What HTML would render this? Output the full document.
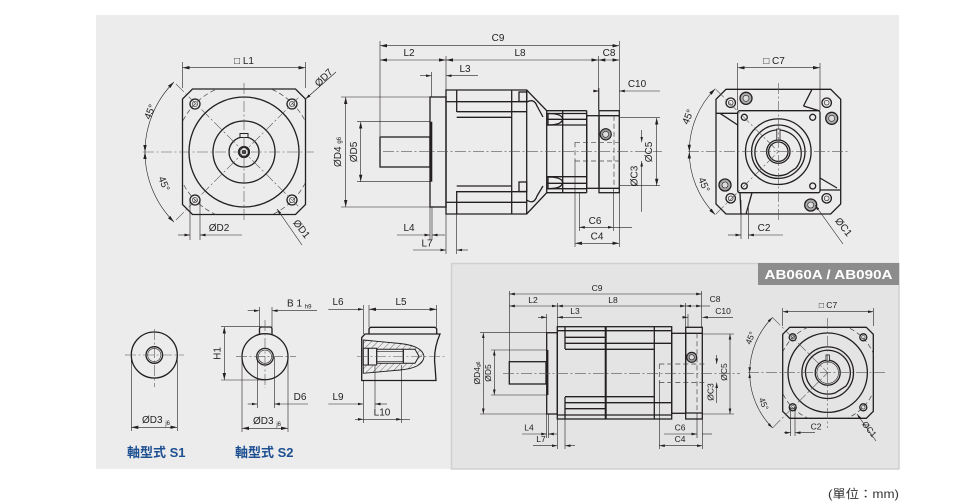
<!DOCTYPE html>
<html><head><meta charset="utf-8"><style>
html,body{margin:0;padding:0;background:#fff;}
svg{display:block;}
text{font-family:"Liberation Sans","Noto Sans CJK TC",sans-serif;fill:#222;}
.o{stroke:#231f20;stroke-width:1.3;fill:none;}
.of{stroke:#231f20;stroke-width:1.3;}
.t{stroke:#231f20;stroke-width:0.6;fill:none;}
.c{stroke:#555;stroke-width:0.6;stroke-dasharray:11 2.5 2 2.5;fill:none;}
.d{stroke:#444;stroke-width:0.7;stroke-dasharray:5 3;fill:none;}
</style></head><body>
<svg width="980" height="502" viewBox="0 0 980 502" xmlns="http://www.w3.org/2000/svg">
<defs>
<marker id="a" viewBox="0 0 10 10" refX="10" refY="5" markerWidth="7" markerHeight="7" orient="auto-start-reverse" markerUnits="userSpaceOnUse"><path d="M0,2.6 L10,5 L0,7.4z" fill="#231f20"/></marker>
<marker id="b" viewBox="0 0 10 10" refX="10" refY="5" markerWidth="5.5" markerHeight="5.5" orient="auto-start-reverse" markerUnits="userSpaceOnUse"><path d="M0,2.6 L10,5 L0,7.4z" fill="#231f20"/></marker>
<pattern id="h" width="4.5" height="4.5" patternUnits="userSpaceOnUse" patternTransform="rotate(45)"><rect width="4.5" height="4.5" fill="#ececec"/><line x1="0" y1="0" x2="0" y2="4.5" stroke="#333" stroke-width="0.7"/></pattern>
<clipPath id="cp1"><polygon points="192.5,89 295.5,89 305.5,99 305.5,204.5 295.5,214.5 192.5,214.5 182.5,204.5 182.5,99"/></clipPath>
<clipPath id="cp2"><polygon points="789.7,327.3 866.3,327.3 873.3,334.3 873.3,411.3 866.3,418.3 789.7,418.3 782.7,411.3 782.7,334.3"/></clipPath>
</defs>

<rect x="0" y="0" width="980" height="502" fill="#fff"/>
<rect x="96" y="15" width="803" height="454" fill="#ececec"/>
<rect x="451.5" y="263.5" width="447.5" height="205.5" fill="#e4e4e4" stroke="#d0d0d0" stroke-width="1.5"/>
<rect x="758" y="263" width="141" height="22" fill="#8c8c8c"/>
<text x="828.5" y="279" text-anchor="middle" font-size="13" font-weight="bold" style="fill:#fff" textLength="128" lengthAdjust="spacingAndGlyphs">AB060A / AB090A</text>

<!-- ================= VIEW 1 : input flange ================= -->
<g>
<line class="t" x1="182.5" y1="62" x2="182.5" y2="88"/>
<line class="t" x1="305.5" y1="62" x2="305.5" y2="88"/>
<line class="t" x1="182.5" y1="67.7" x2="305.5" y2="67.7" marker-start="url(#a)" marker-end="url(#a)"/>
<text x="244" y="64" text-anchor="middle" font-size="10">□ L1</text>

<polygon class="o" points="192.5,89 295.5,89 305.5,99 305.5,204.5 295.5,214.5 192.5,214.5 182.5,204.5 182.5,99"/>
<circle class="d" cx="244" cy="152" r="68.6" clip-path="url(#cp1)"/>
<circle class="o" cx="244" cy="152" r="55"/>
<circle class="o" cx="244" cy="152" r="31"/>
<circle class="o" cx="244" cy="152" r="15"/>
<rect x="240" y="133.5" width="8" height="4" fill="#ececec" stroke="#231f20" stroke-width="1"/>
<circle cx="244" cy="152" r="5" fill="none" stroke="#231f20" stroke-width="2.2"/>
<circle cx="244" cy="152" r="2" fill="#231f20"/>
<g>
<circle class="o" cx="195" cy="104" r="5" stroke-width="1"/><circle class="t" cx="195" cy="104" r="2.6"/>
<circle class="o" cx="292" cy="104" r="5" stroke-width="1"/><circle class="t" cx="292" cy="104" r="2.6"/>
<circle class="o" cx="195" cy="200" r="5" stroke-width="1"/><circle class="t" cx="195" cy="200" r="2.6"/>
<circle class="o" cx="292" cy="200" r="5" stroke-width="1"/><circle class="t" cx="292" cy="200" r="2.6"/>
</g>
<line class="c" x1="143" y1="152" x2="314" y2="152"/>
<line class="c" x1="244" y1="83" x2="244" y2="222"/>
<line class="c" x1="176" y1="84" x2="300" y2="208"/>
<line class="c" x1="176" y1="220" x2="300" y2="96"/>
<!-- 45 arcs -->
<path class="t" d="M174,82 A99,99 0 0 0 145,152" marker-start="url(#a)" marker-end="url(#a)"/>
<path class="t" d="M145,152 A99,99 0 0 0 174,222" marker-start="url(#a)" marker-end="url(#a)"/>
<text x="0" y="0" font-size="10" transform="translate(153,113) rotate(-68)" text-anchor="middle">45°</text>
<text x="0" y="0" font-size="10" transform="translate(161,185) rotate(68)" text-anchor="middle">45°</text>
<!-- D7 -->
<line class="t" x1="305.5" y1="99" x2="336" y2="72" marker-start="url(#b)"/>
<text x="0" y="0" font-size="10" transform="translate(326,80) rotate(-45)" text-anchor="middle">ØD7</text>
<!-- D1 -->
<line class="t" x1="277" y1="209" x2="302" y2="245" marker-start="url(#b)"/>
<text x="0" y="0" font-size="10" transform="translate(299,231) rotate(52)" text-anchor="middle">ØD1</text>
<!-- D2 -->
<line class="t" x1="190" y1="200" x2="190" y2="240"/>
<line class="t" x1="200" y1="200" x2="200" y2="240"/>
<line class="t" x1="178" y1="235" x2="190" y2="235" marker-end="url(#b)"/>
<line class="t" x1="242" y1="235" x2="200" y2="235" marker-end="url(#b)"/>
<text x="219" y="231" text-anchor="middle" font-size="10">ØD2</text>
</g>

<!-- ================= VIEW 2 : side view ================= -->
<g>
<!-- dims top -->
<line class="t" x1="380" y1="41" x2="380" y2="136"/>
<line class="t" x1="619.3" y1="41" x2="619.3" y2="110"/>
<line class="t" x1="446" y1="56" x2="446" y2="90"/>
<line class="t" x1="598.3" y1="56" x2="598.3" y2="110"/>
<line class="t" x1="431.5" y1="72" x2="431.5" y2="97"/>
<line class="t" x1="380" y1="45.7" x2="619.3" y2="45.7" marker-start="url(#a)" marker-end="url(#a)"/>
<text x="498" y="41" text-anchor="middle" font-size="10">C9</text>
<line class="t" x1="380" y1="60" x2="446" y2="60" marker-start="url(#a)" marker-end="url(#a)"/>
<line class="t" x1="446" y1="60" x2="598.3" y2="60" marker-start="url(#a)" marker-end="url(#a)"/>
<line class="t" x1="598.3" y1="60" x2="619.3" y2="60" marker-start="url(#a)" marker-end="url(#a)"/>
<text x="409" y="56" text-anchor="middle" font-size="10">L2</text>
<text x="520" y="56" text-anchor="middle" font-size="10">L8</text>
<text x="609" y="56" text-anchor="middle" font-size="10">C8</text>
<line class="t" x1="420" y1="75.7" x2="431.5" y2="75.7" marker-end="url(#b)"/>
<line class="t" x1="478" y1="75.7" x2="446" y2="75.7" marker-end="url(#b)"/>
<text x="465" y="72" text-anchor="middle" font-size="10">L3</text>
<line class="t" x1="593" y1="91" x2="599" y2="91" marker-end="url(#b)"/>
<line class="t" x1="660" y1="91" x2="619.3" y2="91" marker-end="url(#b)"/>
<line class="t" x1="599" y1="88" x2="599" y2="111"/>
<text x="637" y="87" text-anchor="middle" font-size="10">C10</text>

<!-- body -->
<rect class="o" x="380" y="137" width="50" height="30"/>
<rect class="o" x="430" y="97" width="16" height="110"/>
<line x1="431.3" y1="121.7" x2="431.3" y2="181.7" stroke="#231f20" stroke-width="2"/>
<path class="o" d="M446,90 H526.7 L546.7,110.7 V192.7 L526.7,214 H446 Z"/>
<line class="o" x1="511.7" y1="90" x2="511.7" y2="214"/>
<line class="o" x1="526.7" y1="90" x2="526.7" y2="214"/>
<line class="o" x1="456.7" y1="90" x2="456.7" y2="112"/>
<line class="o" x1="456.7" y1="191" x2="456.7" y2="214"/>
<line class="o" x1="446" y1="101.7" x2="456.7" y2="101.7"/>
<line class="o" x1="446" y1="202.3" x2="456.7" y2="202.3"/>
<line class="o" x1="456.7" y1="101.7" x2="526.7" y2="101.7"/>
<line class="o" x1="456.7" y1="111.7" x2="526.7" y2="111.7"/>
<line class="o" x1="456.7" y1="117.3" x2="511.7" y2="117.3"/>
<line class="o" x1="456.7" y1="186" x2="511.7" y2="186"/>
<line class="o" x1="456.7" y1="191.7" x2="526.7" y2="191.7"/>
<line class="o" x1="456.7" y1="202.3" x2="526.7" y2="202.3"/>
<rect class="o" x="519" y="92" width="7.7" height="9.5" stroke-width="1"/>
<rect class="o" x="519" y="182" width="7.7" height="9.5" stroke-width="1"/>
<path class="o" d="M526.7,102 Q534,98 537,106 L543,117" stroke-width="1"/>
<path class="o" d="M526.7,200 Q534,205 537,196 L543,186" stroke-width="1"/>
<!-- mid section -->
<line class="o" x1="546.7" y1="110.7" x2="586.7" y2="110.7"/>
<line class="o" x1="546.7" y1="192.7" x2="586.7" y2="192.7"/>
<line class="o" x1="562.7" y1="110.7" x2="562.7" y2="192.7"/>
<line class="o" x1="586.7" y1="110.7" x2="586.7" y2="192.7"/>
<line class="o" x1="546.7" y1="113.5" x2="586.7" y2="113.5" stroke-width="0.9"/>
<line class="o" x1="546.7" y1="119.3" x2="586.7" y2="119.3" stroke-width="0.9"/>
<line class="o" x1="546.7" y1="125" x2="586.7" y2="125" stroke-width="0.9"/>
<line class="o" x1="546.7" y1="176.7" x2="586.7" y2="176.7" stroke-width="0.9"/>
<line class="o" x1="546.7" y1="183.3" x2="586.7" y2="183.3" stroke-width="0.9"/>
<line class="o" x1="546.7" y1="188.7" x2="586.7" y2="188.7" stroke-width="0.9"/>
<path class="o" d="M548,113.5 Q562,113.5 562.7,119 Q562,125 548,125 Z" stroke-width="0.9"/>
<path class="o" d="M548,177 Q562,177 562.7,182.5 Q562,188.7 548,188.7 Z" stroke-width="0.9"/>
<rect class="o" x="586.7" y="115.7" width="12.3" height="72.6"/>
<rect class="o" x="599" y="110.7" width="20.3" height="82"/>
<line class="o" x1="599" y1="115.7" x2="619.3" y2="115.7" stroke-width="0.9"/>
<line class="o" x1="599" y1="188.3" x2="619.3" y2="188.3" stroke-width="0.9"/>
<line class="d" x1="614" y1="115.7" x2="614" y2="188.3"/>
<circle cx="605.7" cy="134.3" r="5.6" fill="#9a9a9a" stroke="#231f20" stroke-width="1.1"/>
<circle cx="605.7" cy="134.3" r="3" fill="#ddd" stroke="#231f20" stroke-width="0.6"/>
<line class="d" x1="575" y1="142.3" x2="621" y2="142.3"/>
<line class="d" x1="575" y1="161" x2="621" y2="161"/>
<line class="d" x1="575" y1="142.3" x2="575" y2="161"/>
<line class="c" x1="383" y1="151.7" x2="662" y2="151.7"/>

<!-- left dims -->
<line class="t" x1="341" y1="97" x2="430" y2="97"/>
<line class="t" x1="341" y1="207" x2="430" y2="207"/>
<line class="t" x1="345.7" y1="97" x2="345.7" y2="207" marker-start="url(#a)" marker-end="url(#a)"/>
<line class="t" x1="357" y1="121.7" x2="430" y2="121.7"/>
<line class="t" x1="357" y1="181.7" x2="430" y2="181.7"/>
<line class="t" x1="360.7" y1="121.7" x2="360.7" y2="181.7" marker-start="url(#a)" marker-end="url(#a)"/>
<text x="0" y="0" font-size="10" transform="translate(341,152) rotate(-90)" text-anchor="middle">ØD4 <tspan font-size="6">g6</tspan></text>
<text x="0" y="0" font-size="10" transform="translate(357,152) rotate(-90)" text-anchor="middle">ØD5</text>
<!-- right dims -->
<line class="t" x1="620" y1="117.7" x2="660" y2="117.7"/>
<line class="t" x1="620" y1="185.7" x2="660" y2="185.7"/>
<line class="t" x1="656.7" y1="117.7" x2="656.7" y2="185.7" marker-start="url(#a)" marker-end="url(#a)"/>
<text x="0" y="0" font-size="10" transform="translate(652,152) rotate(-90)" text-anchor="middle">ØC5</text>
<line class="t" x1="641.7" y1="130" x2="641.7" y2="142.3" marker-end="url(#b)"/>
<line class="t" x1="641.7" y1="211.7" x2="641.7" y2="161" marker-end="url(#b)"/>
<text x="0" y="0" font-size="10" transform="translate(637.5,176) rotate(-90)" text-anchor="middle">ØC3</text>
<!-- bottom dims -->
<line class="t" x1="575" y1="161" x2="575" y2="247"/>
<line class="t" x1="619.3" y1="193" x2="619.3" y2="247"/>
<line class="t" x1="579.3" y1="193" x2="579.3" y2="231"/>
<line class="t" x1="613.3" y1="189" x2="613.3" y2="231"/>
<line class="t" x1="579.3" y1="227.3" x2="613.3" y2="227.3" marker-start="url(#b)" marker-end="url(#b)"/>
<line class="t" x1="613.3" y1="227.3" x2="632" y2="227.3"/>
<text x="595" y="224" text-anchor="middle" font-size="10">C6</text>
<line class="t" x1="575" y1="243.3" x2="619.3" y2="243.3" marker-start="url(#a)" marker-end="url(#a)"/>
<text x="597" y="239.5" text-anchor="middle" font-size="10">C4</text>
<line class="t" x1="430" y1="207" x2="430" y2="240"/>
<line class="t" x1="432" y1="207" x2="432" y2="240"/>
<line class="t" x1="446" y1="214" x2="446" y2="254"/>
<line class="t" x1="456.7" y1="214" x2="456.7" y2="254"/>
<line class="t" x1="397" y1="235" x2="430" y2="235" marker-end="url(#b)"/>
<line class="t" x1="445" y1="235" x2="432" y2="235" marker-end="url(#b)"/>
<text x="409" y="231" text-anchor="middle" font-size="10">L4</text>
<line class="t" x1="413" y1="250" x2="446" y2="250" marker-end="url(#b)"/>
<line class="t" x1="468" y1="250" x2="456.7" y2="250" marker-end="url(#b)"/>
<text x="427" y="246.5" text-anchor="middle" font-size="10">L7</text>
</g>

<!-- ================= VIEW 3 : output end view ================= -->
<g>
<line class="t" x1="737.7" y1="63" x2="737.7" y2="110"/>
<line class="t" x1="820" y1="63" x2="820" y2="110"/>
<line class="t" x1="737.7" y1="67.7" x2="820" y2="67.7" marker-start="url(#a)" marker-end="url(#a)"/>
<text x="774" y="64" text-anchor="middle" font-size="10">□ C7</text>

<polygon class="o" points="726,89.3 830.7,89.3 840.7,99.3 840.7,204 830.7,214 726,214 716,204 716,99.3"/>
<rect class="o" x="737.7" y="110.7" width="82.3" height="82" rx="2"/>
<line class="o" x1="716" y1="113.3" x2="737.7" y2="113.3" stroke-width="1"/>
<line class="o" x1="720" y1="113.3" x2="737.7" y2="125" stroke-width="1"/>
<line class="o" x1="812" y1="89.3" x2="803.5" y2="106" stroke-width="1"/>
<line class="o" x1="803.5" y1="106" x2="820" y2="111" stroke-width="1"/>
<line class="o" x1="820" y1="178" x2="837" y2="188" stroke-width="1"/>
<line class="o" x1="820" y1="190" x2="840.7" y2="190" stroke-width="1"/>
<line class="o" x1="740" y1="193" x2="741" y2="214" stroke-width="1"/>
<line class="o" x1="752" y1="192.7" x2="746" y2="214" stroke-width="1"/>
<circle class="o" cx="778.3" cy="151.7" r="32.8"/>
<circle class="o" cx="778.3" cy="151.7" r="26.7" stroke-width="1"/>
<path class="o" d="M755.5,147 A23.3,23.3 0 1 1 796,168 L787,174 A23.3,23.3 0 0 1 755.5,147 Z" stroke-width="1"/>
<circle class="o" cx="778.3" cy="151.7" r="11.7"/>
<circle class="o" cx="778.3" cy="151.7" r="9.7" stroke-width="0.8"/>
<rect x="776.8" y="129" width="3.2" height="11" fill="#ececec" stroke="#231f20" stroke-width="0.8"/>
<g>
<circle class="o" cx="730.7" cy="102.7" r="4.7" stroke-width="1"/><circle class="t" cx="730.7" cy="102.7" r="2.4"/>
<circle class="o" cx="826.7" cy="102.7" r="4.7" stroke-width="1"/><circle class="t" cx="826.7" cy="102.7" r="2.4"/>
<circle class="o" cx="730.7" cy="198.3" r="4.7" stroke-width="1"/><circle class="t" cx="730.7" cy="198.3" r="2.4"/>
<circle class="o" cx="826.7" cy="198.3" r="4.7" stroke-width="1"/><circle class="t" cx="826.7" cy="198.3" r="2.4"/>
<circle class="o" cx="744.3" cy="117.3" r="3" stroke-width="1"/>
<circle class="o" cx="812.7" cy="117.3" r="3" stroke-width="1"/>
<circle class="o" cx="744.3" cy="186" r="3" stroke-width="1"/>
<circle class="o" cx="812.7" cy="186" r="3" stroke-width="1"/>
<circle cx="746" cy="98.3" r="6" fill="#aaa" stroke="#231f20" stroke-width="1.3"/><circle cx="746" cy="98.3" r="3" fill="#ddd" stroke="#231f20" stroke-width="0.6"/>
<circle cx="831.7" cy="118.3" r="6" fill="#aaa" stroke="#231f20" stroke-width="1.3"/><circle cx="831.7" cy="118.3" r="3" fill="#ddd" stroke="#231f20" stroke-width="0.6"/>
<circle cx="725" cy="185" r="6" fill="#aaa" stroke="#231f20" stroke-width="1.3"/><circle cx="725" cy="185" r="3" fill="#ddd" stroke="#231f20" stroke-width="0.6"/>
<circle cx="810.7" cy="205" r="6" fill="#aaa" stroke="#231f20" stroke-width="1.3"/><circle cx="810.7" cy="205" r="3" fill="#ddd" stroke="#231f20" stroke-width="0.6"/>
</g>
<line class="c" x1="688" y1="151.7" x2="848" y2="151.7"/>
<line class="c" x1="778.3" y1="83" x2="778.3" y2="221"/>
<line class="c" x1="716" y1="89.5" x2="778.3" y2="151.7"/>
<line class="c" x1="716" y1="214" x2="778.3" y2="151.7"/>
<path class="t" d="M715.3,88.7 A89,89 0 0 0 689.3,151.7" marker-start="url(#a)" marker-end="url(#a)"/>
<path class="t" d="M689.3,151.7 A89,89 0 0 0 715.3,214.7" marker-start="url(#a)" marker-end="url(#a)"/>
<text x="0" y="0" font-size="10" transform="translate(691,118) rotate(-68)" text-anchor="middle">45°</text>
<text x="0" y="0" font-size="10" transform="translate(701,186) rotate(68)" text-anchor="middle">45°</text>
<line class="t" x1="741" y1="200" x2="741" y2="239"/>
<line class="t" x1="748.3" y1="205" x2="748.3" y2="239"/>
<line class="t" x1="728" y1="235" x2="741" y2="235" marker-end="url(#b)"/>
<line class="t" x1="783" y1="235" x2="748.3" y2="235" marker-end="url(#b)"/>
<text x="764" y="231" text-anchor="middle" font-size="10">C2</text>
<line class="t" x1="815" y1="205" x2="843" y2="244" marker-start="url(#b)"/>
<text x="0" y="0" font-size="10" transform="translate(841,229) rotate(52)" text-anchor="middle">ØC1</text>
</g>

<!-- ================= SHAFT S1 ================= -->
<g>
<circle class="o" cx="154.3" cy="355" r="23"/>
<circle class="o" cx="154.3" cy="355" r="8.3"/>
<circle class="t" cx="154.3" cy="355" r="6.6"/>
<line class="c" x1="125" y1="355" x2="184" y2="355"/>
<line class="c" x1="154.3" y1="329" x2="154.3" y2="387"/>
<line class="t" x1="131.3" y1="356" x2="131.3" y2="431"/>
<line class="t" x1="177.3" y1="356" x2="177.3" y2="431"/>
<line class="t" x1="131.3" y1="427.3" x2="177.3" y2="427.3" marker-start="url(#a)" marker-end="url(#a)"/>
<text x="142" y="423" font-size="10">ØD3 <tspan font-size="6" dy="2">j6</tspan></text>
<text x="127" y="457" font-size="13" font-weight="bold" style="fill:#1d4f91">軸型式 S1</text>
</g>

<!-- ================= SHAFT S2 ================= -->
<g>
<path class="o" d="M259.5,334.5 V329 Q259.5,327 261.5,327 H270 Q272,327 272,329 V334.5"/>
<circle class="o" cx="265" cy="356.7" r="23"/>
<circle class="o" cx="265" cy="356.7" r="8.3"/>
<circle class="t" cx="265" cy="356.7" r="6.6"/>
<line class="c" x1="236" y1="356.7" x2="296" y2="356.7"/>
<line class="c" x1="265" y1="320" x2="265" y2="388"/>
<line class="t" x1="221" y1="326.7" x2="262" y2="326.7"/>
<line class="t" x1="221" y1="380" x2="265" y2="380"/>
<line class="t" x1="224.3" y1="326.7" x2="224.3" y2="380" marker-start="url(#a)" marker-end="url(#a)"/>
<text x="0" y="0" font-size="10" transform="translate(220.5,353.5) rotate(-90)" text-anchor="middle">H1</text>
<line class="t" x1="259.5" y1="307" x2="259.5" y2="327"/>
<line class="t" x1="272" y1="307" x2="272" y2="327"/>
<line class="t" x1="247.7" y1="310.7" x2="259.5" y2="310.7" marker-end="url(#b)"/>
<line class="t" x1="317" y1="310.7" x2="272" y2="310.7" marker-end="url(#b)"/>
<text x="287" y="306.5" font-size="10">B 1 <tspan font-size="6" dy="2">h9</tspan></text>
<line class="t" x1="257.3" y1="357" x2="257.3" y2="408"/>
<line class="t" x1="274.3" y1="357" x2="274.3" y2="408"/>
<line class="t" x1="247.7" y1="404" x2="257.3" y2="404" marker-end="url(#b)"/>
<line class="t" x1="308" y1="404" x2="274.3" y2="404" marker-end="url(#b)"/>
<text x="300" y="400" text-anchor="middle" font-size="10">D6</text>
<line class="t" x1="242" y1="357" x2="242" y2="432"/>
<line class="t" x1="288" y1="357" x2="288" y2="432"/>
<line class="t" x1="242" y1="428.3" x2="288" y2="428.3" marker-start="url(#a)" marker-end="url(#a)"/>
<text x="253" y="424" font-size="10">ØD3 <tspan font-size="6" dy="2">j6</tspan></text>
<text x="235" y="457" font-size="13" font-weight="bold" style="fill:#1d4f91">軸型式 S2</text>
</g>

<!-- ================= SHAFT DETAIL ================= -->
<g>
<path class="o" d="M369,334 V329.5 Q369,327.3 371.5,327.3 H434 Q436.7,327.3 436.7,329.5 V334"/>
<path class="o" d="M365,334 H440 Q433,350 435,366 L436,380.5 H361.7 V337.5 Z"/>
<path d="M363.3,340 L400,343.5 Q423,346 424,356.7 Q423,368 400,370 L363.3,373.3 Z" fill="url(#h)" stroke="#231f20" stroke-width="0.9"/>
<path d="M363.3,348.3 H376.7 V349.3 H415 L419,356.3 L415,363.3 H376.7 V365 H363.3 Z" fill="#ececec" stroke="#231f20" stroke-width="1"/>
<line class="o" x1="368.3" y1="348.3" x2="368.3" y2="365" stroke-width="1"/>
<line class="o" x1="376.7" y1="349.3" x2="376.7" y2="363.3" stroke-width="1"/>
<line class="o" x1="403.3" y1="349.3" x2="403.3" y2="363.3" stroke-width="1"/>
<line class="t" x1="376.7" y1="351.3" x2="403.3" y2="351.3"/>
<line class="t" x1="376.7" y1="361.3" x2="403.3" y2="361.3"/>
<line class="c" x1="357" y1="356.5" x2="445" y2="356.5"/>
<line class="t" x1="363.3" y1="305" x2="363.3" y2="334"/>
<line class="t" x1="369" y1="305" x2="369" y2="327"/>
<line class="t" x1="436.7" y1="305" x2="436.7" y2="327"/>
<line class="t" x1="328.3" y1="309.3" x2="363.3" y2="309.3" marker-end="url(#b)"/>
<line class="t" x1="369" y1="309.3" x2="436.7" y2="309.3" marker-start="url(#a)" marker-end="url(#a)"/>
<text x="338" y="305" text-anchor="middle" font-size="10">L6</text>
<text x="401" y="305" text-anchor="middle" font-size="10">L5</text>
<line class="t" x1="363.3" y1="381" x2="363.3" y2="423"/>
<line class="t" x1="375" y1="365" x2="375" y2="408"/>
<line class="t" x1="401.7" y1="365" x2="401.7" y2="423"/>
<line class="t" x1="328.3" y1="404" x2="363.3" y2="404" marker-end="url(#b)"/>
<line class="t" x1="387" y1="404" x2="375" y2="404" marker-end="url(#b)"/>
<text x="338" y="400" text-anchor="middle" font-size="10">L9</text>
<line class="t" x1="355" y1="419.3" x2="363.3" y2="419.3" marker-end="url(#b)"/>
<line class="t" x1="363.3" y1="419.3" x2="401.7" y2="419.3" marker-end="url(#b)"/>
<line class="t" x1="401.7" y1="419.3" x2="410" y2="419.3"/>
<text x="382" y="415.5" text-anchor="middle" font-size="10">L10</text>
</g>

<!-- ================= PANEL SIDE VIEW ================= -->
<g>
<line class="t" x1="509.3" y1="291" x2="509.3" y2="361"/>
<line class="t" x1="701.7" y1="291" x2="701.7" y2="327"/>
<line class="t" x1="557.3" y1="303" x2="557.3" y2="326"/>
<line class="t" x1="685.7" y1="303" x2="685.7" y2="327"/>
<line class="t" x1="546.7" y1="314" x2="546.7" y2="332"/>
<line class="t" x1="509.3" y1="294" x2="701.7" y2="294" marker-start="url(#b)" marker-end="url(#b)"/>
<text x="597" y="291" text-anchor="middle" font-size="8.5">C9</text>
<line class="t" x1="509.3" y1="306" x2="557.3" y2="306" marker-start="url(#b)" marker-end="url(#b)"/>
<line class="t" x1="557.3" y1="306" x2="685.7" y2="306" marker-start="url(#b)" marker-end="url(#b)"/>
<line class="t" x1="685.7" y1="306" x2="701.7" y2="306" marker-start="url(#b)" marker-end="url(#b)"/>
<line class="t" x1="701.7" y1="306" x2="710" y2="306"/>
<text x="533" y="303" text-anchor="middle" font-size="8.5">L2</text>
<text x="613" y="303" text-anchor="middle" font-size="8.5">L8</text>
<text x="715" y="302" text-anchor="middle" font-size="8.5">C8</text>
<line class="t" x1="538" y1="317.3" x2="546.7" y2="317.3" marker-end="url(#b)"/>
<line class="t" x1="582" y1="317.3" x2="557.3" y2="317.3" marker-end="url(#b)"/>
<text x="575" y="314" text-anchor="middle" font-size="8.5">L3</text>
<line class="t" x1="683" y1="317.3" x2="688" y2="317.3" marker-end="url(#b)"/>
<line class="t" x1="733" y1="317.3" x2="702.3" y2="317.3" marker-end="url(#b)"/>
<line class="t" x1="688" y1="314" x2="688" y2="328"/>
<text x="723" y="314" text-anchor="middle" font-size="8.5">C10</text>

<rect class="o" x="509.3" y="361.7" width="36.7" height="22.3"/>
<rect class="o" x="546.7" y="332.7" width="10.6" height="81.3"/>
<line x1="547.5" y1="350" x2="547.5" y2="395" stroke="#231f20" stroke-width="1.8"/>
<rect class="o" x="557.3" y="326.7" width="114.4" height="92.3"/>
<line class="o" x1="565" y1="326.7" x2="565" y2="349"/>
<line class="o" x1="565" y1="397" x2="565" y2="419"/>
<line x1="605.7" y1="326.7" x2="605.7" y2="419" stroke="#231f20" stroke-width="2"/>
<line class="o" x1="654.3" y1="326.7" x2="654.3" y2="419"/>
<line class="o" x1="557.3" y1="330.7" x2="671.7" y2="330.7" stroke-width="1"/>
<line class="o" x1="565" y1="337.3" x2="605.7" y2="337.3" stroke-width="1"/>
<line class="o" x1="565" y1="343.3" x2="605.7" y2="343.3" stroke-width="1"/>
<line class="o" x1="565" y1="349.3" x2="654.3" y2="349.3" stroke-width="1"/>
<line class="o" x1="605.7" y1="343.3" x2="671.7" y2="343.3" stroke-width="1"/>
<line class="o" x1="557.3" y1="415" x2="671.7" y2="415" stroke-width="1"/>
<line class="o" x1="565" y1="408.7" x2="605.7" y2="408.7" stroke-width="1"/>
<line class="o" x1="565" y1="402.7" x2="605.7" y2="402.7" stroke-width="1"/>
<line class="o" x1="565" y1="396.7" x2="654.3" y2="396.7" stroke-width="1"/>
<line class="o" x1="605.7" y1="402.7" x2="671.7" y2="402.7" stroke-width="1"/>
<rect class="o" x="671.7" y="333.3" width="14" height="80"/>
<rect class="o" x="685.7" y="327.3" width="16.6" height="91.7"/>
<line class="o" x1="685.7" y1="333.3" x2="702.3" y2="333.3" stroke-width="0.9"/>
<line class="o" x1="685.7" y1="413" x2="702.3" y2="413" stroke-width="0.9"/>
<line class="d" x1="697" y1="333.3" x2="697" y2="413"/>
<circle cx="691.7" cy="357.3" r="5" fill="#9a9a9a" stroke="#231f20" stroke-width="1.1"/>
<circle cx="691.7" cy="357.3" r="2.6" fill="#ddd" stroke="#231f20" stroke-width="0.6"/>
<line class="d" x1="659.3" y1="364" x2="705" y2="364"/>
<line class="d" x1="659.3" y1="382.5" x2="705" y2="382.5"/>
<line class="d" x1="659.3" y1="364" x2="659.3" y2="382.5"/>
<line class="c" x1="503" y1="373.3" x2="740" y2="373.3"/>

<line class="t" x1="480" y1="332.7" x2="546.7" y2="332.7"/>
<line class="t" x1="480" y1="414" x2="546.7" y2="414"/>
<line class="t" x1="483.3" y1="332.7" x2="483.3" y2="414" marker-start="url(#b)" marker-end="url(#b)"/>
<line class="t" x1="491" y1="350" x2="546.7" y2="350"/>
<line class="t" x1="491" y1="395" x2="546.7" y2="395"/>
<line class="t" x1="494.3" y1="350" x2="494.3" y2="395" marker-start="url(#b)" marker-end="url(#b)"/>
<text x="0" y="0" font-size="8.5" transform="translate(480,373) rotate(-90)" text-anchor="middle">ØD4<tspan font-size="5">g6</tspan></text>
<text x="0" y="0" font-size="8.5" transform="translate(491,373) rotate(-90)" text-anchor="middle">ØD5</text>
<line class="t" x1="703" y1="334" x2="734" y2="334"/>
<line class="t" x1="703" y1="414" x2="734" y2="414"/>
<line class="t" x1="730" y1="334" x2="730" y2="414" marker-start="url(#b)" marker-end="url(#b)"/>
<text x="0" y="0" font-size="8.5" transform="translate(727,372) rotate(-90)" text-anchor="middle">ØC5</text>
<line class="t" x1="716.7" y1="355" x2="716.7" y2="364" marker-end="url(#b)"/>
<line class="t" x1="716.7" y1="403" x2="716.7" y2="382.5" marker-end="url(#b)"/>
<text x="0" y="0" font-size="8.5" transform="translate(713.5,392) rotate(-90)" text-anchor="middle">ØC3</text>
<line class="t" x1="546.7" y1="414" x2="546.7" y2="438"/>
<line class="t" x1="548.3" y1="414" x2="548.3" y2="438"/>
<line class="t" x1="557.3" y1="419" x2="557.3" y2="449"/>
<line class="t" x1="565" y1="419" x2="565" y2="449"/>
<line class="t" x1="522" y1="434" x2="546.7" y2="434" marker-end="url(#b)"/>
<line class="t" x1="557" y1="434" x2="548.3" y2="434" marker-end="url(#b)"/>
<text x="529" y="430.5" text-anchor="middle" font-size="8.5">L4</text>
<line class="t" x1="533" y1="445.7" x2="557.3" y2="445.7" marker-end="url(#b)"/>
<line class="t" x1="575" y1="445.7" x2="565" y2="445.7" marker-end="url(#b)"/>
<text x="541" y="442" text-anchor="middle" font-size="8.5">L7</text>
<line class="t" x1="659.3" y1="382.5" x2="659.3" y2="449"/>
<line class="t" x1="702.3" y1="419" x2="702.3" y2="449"/>
<line class="t" x1="697" y1="413" x2="697" y2="438"/>
<line class="t" x1="664" y1="434" x2="697" y2="434" marker-end="url(#b)"/>
<line class="t" x1="712" y1="434" x2="702.3" y2="434"/>
<text x="680" y="430.5" text-anchor="middle" font-size="8.5">C6</text>
<line class="t" x1="659.3" y1="445.7" x2="702.3" y2="445.7" marker-start="url(#b)" marker-end="url(#b)"/>
<text x="680" y="442" text-anchor="middle" font-size="8.5">C4</text>
</g>

<!-- ================= PANEL END VIEW ================= -->
<g>
<line class="t" x1="782.7" y1="308" x2="782.7" y2="326"/>
<line class="t" x1="873.3" y1="308" x2="873.3" y2="326"/>
<line class="t" x1="782.7" y1="311.7" x2="873.3" y2="311.7" marker-start="url(#b)" marker-end="url(#b)"/>
<text x="828" y="308" text-anchor="middle" font-size="8.5">□ C7</text>
<polygon class="o" points="789.7,327.3 866.3,327.3 873.3,334.3 873.3,411.3 866.3,418.3 789.7,418.3 782.7,411.3 782.7,334.3"/>
<circle class="d" cx="827.7" cy="372.7" r="49.5" clip-path="url(#cp2)"/>
<circle class="o" cx="827.7" cy="372.7" r="39.7"/>
<circle class="o" cx="827.7" cy="372.7" r="25.8" stroke-width="1"/>
<path class="o" d="M805.5,370 A22.5,22.5 0 1 1 846,386 L835,393 A22.5,22.5 0 0 1 805.5,370 Z" stroke-width="1"/>
<circle class="o" cx="827.7" cy="372.7" r="12.5" stroke-width="1.6"/>
<circle class="t" cx="827.7" cy="372.7" r="10.8"/>
<rect x="826" y="355" width="3.4" height="6" fill="#e4e4e4" stroke="#231f20" stroke-width="0.8"/>
<circle class="o" cx="792.7" cy="337.3" r="3.5" stroke-width="1"/><circle class="t" cx="792.7" cy="337.3" r="1.8"/>
<circle class="o" cx="863.3" cy="337.3" r="3.5" stroke-width="1"/><circle class="t" cx="863.3" cy="337.3" r="1.8"/>
<circle class="o" cx="792.7" cy="407.3" r="3.5" stroke-width="1"/><circle class="t" cx="792.7" cy="407.3" r="1.8"/>
<circle class="o" cx="863.3" cy="407.3" r="3.5" stroke-width="1"/><circle class="t" cx="863.3" cy="407.3" r="1.8"/>
<line class="c" x1="748" y1="372.7" x2="885" y2="372.7"/>
<line class="c" x1="827.7" y1="318" x2="827.7" y2="428"/>
<line class="c" x1="772.5" y1="317.5" x2="827.7" y2="372.7"/>
<line class="c" x1="772.5" y1="427.9" x2="827.7" y2="372.7"/>
<path class="t" d="M772.5,317.5 A78,78 0 0 0 749.7,372.7" marker-start="url(#b)" marker-end="url(#b)"/>
<path class="t" d="M749.7,372.7 A78,78 0 0 0 772.5,427.9" marker-start="url(#b)" marker-end="url(#b)"/>
<text x="0" y="0" font-size="8.5" transform="translate(753,339) rotate(-68)" text-anchor="middle">45°</text>
<text x="0" y="0" font-size="8.5" transform="translate(761,405) rotate(68)" text-anchor="middle">45°</text>
<line class="t" x1="790.7" y1="407" x2="790.7" y2="436"/>
<line class="t" x1="795" y1="407" x2="795" y2="436"/>
<line class="t" x1="784" y1="432.7" x2="790.7" y2="432.7" marker-end="url(#b)"/>
<line class="t" x1="815" y1="432.7" x2="795" y2="432.7" marker-end="url(#b)"/>
<text x="816" y="429.5" text-anchor="middle" font-size="8.5">C2</text>
<line class="t" x1="857" y1="414" x2="876" y2="441" marker-start="url(#b)"/>
<text x="0" y="0" font-size="8.5" transform="translate(867,431) rotate(52)" text-anchor="middle">ØC1</text>
</g>

<text x="828" y="498" font-size="12" style="fill:#333" textLength="71" lengthAdjust="spacingAndGlyphs">(單位：mm)</text>
</svg>
</body></html>
